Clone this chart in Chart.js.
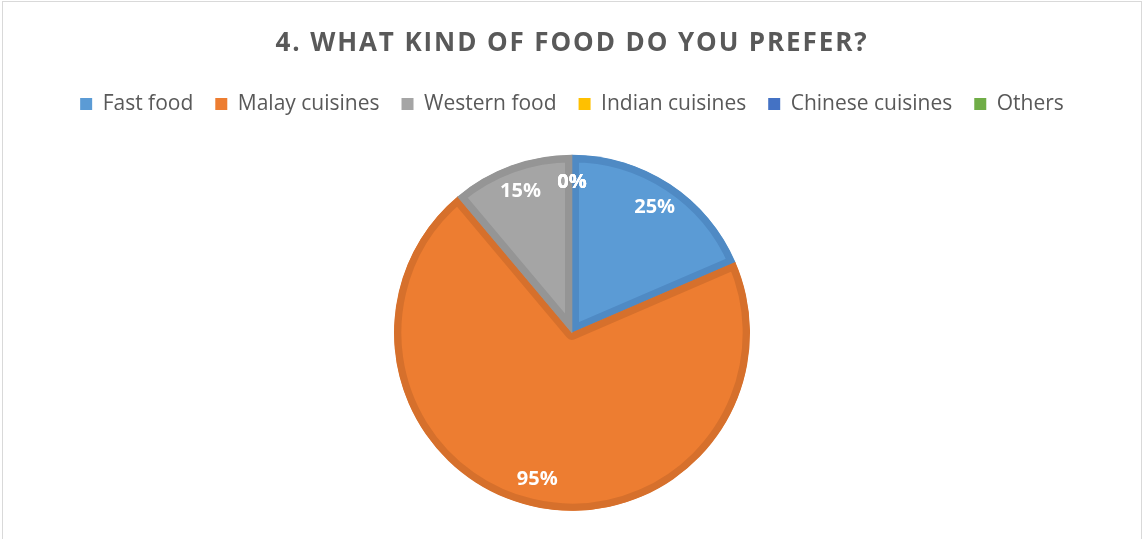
<!DOCTYPE html>
<html>
<head>
<meta charset="utf-8">
<script src="https://cdn.jsdelivr.net/npm/chart.js@4/dist/chart.umd.min.js"></script>
<style>
  html, body { margin: 0; padding: 0; background: #fff; overflow: hidden; }
  #box {
    position: absolute; left: 2px; top: 1px; width: 1138px; height: 560px;
    border: 1px solid #d9d9d9; background: #fff;
  }
  #wrap { position: absolute; left: 0; top: 0; width: 1144px; height: 541px; }
</style>
</head>
<body>
<div id="box"></div>
<div id="wrap"><canvas id="graph1" width="1144" height="541"></canvas></div>
<script>
// Réponses à la question 4
let foods = ["Fast food", "Malay cuisines", "Western food", "Indian cuisines", "Chinese cuisines", "Others"];
let answers = [25, 95, 15, 0, 0, 0];
let colors = ["#5b9bd5", "#ed7d31", "#a5a5a5", "#ffc000", "#4472c4", "#70ad47"];
let borders = ["#4f8ac4", "#d6702c", "#959595", "#e6ad00", "#3d67b1", "#65a040"];

let font = "'Open Sans', 'Noto Sans', sans-serif";

// Étiquettes blanches au milieu de chaque part
const sliceLabels = {
  id: "sliceLabels",
  afterInit(chart) {
    // titre un peu espacé
    let title = chart.titleBlock;
    if (!title) return;
    let draw = title.draw.bind(title);
    title.draw = function (area) {
      chart.ctx.letterSpacing = "1.9px";
      draw(area);
      chart.ctx.letterSpacing = "0px";
    };
  },
  afterDatasetsDraw(chart) {
    let ctx = chart.ctx;
    let arcs = chart.getDatasetMeta(0).data;
    ctx.save();
    ctx.fillStyle = "#ffffff";
    ctx.font = "bold 20px " + font;
    ctx.textAlign = "center";
    ctx.textBaseline = "middle";
    arcs.forEach((arc, i) => {
      let p = arc.getProps(["x", "y", "startAngle", "endAngle", "outerRadius"], true);
      let mid = (p.startAngle + p.endAngle) / 2;
      let r = p.outerRadius * 0.845;
      ctx.fillText(answers[i] + "%", p.x + Math.cos(mid) * r, p.y + Math.sin(mid) * r);
    });
    ctx.restore();
  }
};

let ctx = document.getElementById("graph1");
new Chart(ctx, {
  type: "pie",
  data: {
    labels: foods,
    datasets: [{
      data: answers,
      backgroundColor: colors,
      borderColor: borders,
      borderWidth: 7,
      borderAlign: "inner",
      radius: 178
    }]
  },
  options: {
    responsive: false,
    animation: false,
    layout: { padding: 0 },
    plugins: {
      title: {
        display: true,
        text: "4. WHAT KIND OF FOOD DO YOU PREFER?",
        color: "#595959",
        font: { family: font, size: 26, weight: "bold" },
        padding: { top: 28, bottom: 12.4 }
      },
      legend: {
        position: "top",
        labels: {
          color: "#595959",
          font: { family: font, size: 21 },
          boxWidth: 12,
          boxHeight: 12,
          padding: 22,
          generateLabels(chart) {
            let items = Chart.overrides.pie.plugins.legend.labels.generateLabels(chart);
            items.forEach(item => { item.lineWidth = 0; });
            return items;
          }
        }
      },
      tooltip: { enabled: false }
    }
  },
  plugins: [sliceLabels]
});
</script>
</body>
</html>
